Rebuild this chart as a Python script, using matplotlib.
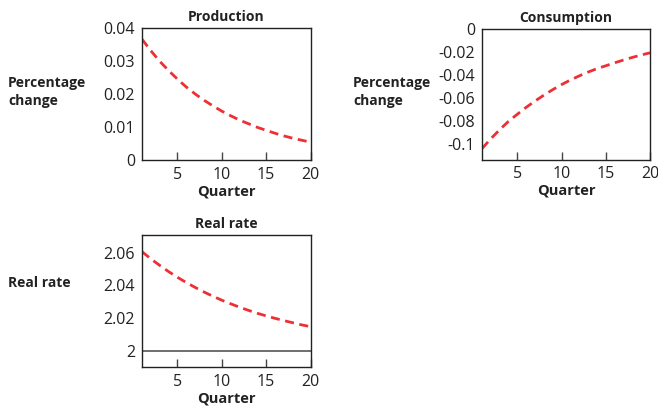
import numpy as np
import matplotlib.pyplot as plt
from matplotlib.ticker import FuncFormatter

# quarters 1..20 and responses
quarter = np.arange(1, 21)
production = [0.0366, 0.0331, 0.0299, 0.0271, 0.0245, 0.0221, 0.0200, 0.0181,
              0.0164, 0.0148, 0.0134, 0.0121, 0.0110, 0.0099, 0.0090, 0.0081,
              0.0073, 0.0066, 0.0060, 0.0054]
consumption = [-0.1040, -0.0954, -0.0875, -0.0802, -0.0740, -0.0680, -0.0625,
               -0.0574, -0.0526, -0.0482, -0.0442, -0.0406, -0.0373, -0.0343,
               -0.0318, -0.0292, -0.0268, -0.0245, -0.0224, -0.0205]
real_rate = [2.0606, 2.0562, 2.0522, 2.0484, 2.0449, 2.0417, 2.0387, 2.0359,
             2.0333, 2.0309, 2.0287, 2.0266, 2.0247, 2.0229, 2.0213, 2.0198,
             2.0184, 2.0171, 2.0158, 2.0147]
steady_rate = 2.0

prod_ticks = [0, 0.01, 0.02, 0.03, 0.04]
cons_ticks = [-0.1, -0.08, -0.06, -0.04, -0.02, 0]
rate_ticks = [2, 2.02, 2.04, 2.06]
x_ticks = [5, 10, 15, 20]

plt.rcParams["font.family"] = ["Open Sans", "DejaVu Sans"]
plt.rcParams["lines.scale_dashes"] = False

red = "#ec3035"
W, H = 658, 409


def ax_at(fig, left, top, right, bottom):
    return fig.add_axes([left / W, 1 - bottom / H, (right - left) / W, (bottom - top) / H])


def style(ax, title, yticks, ylim):
    ax.set_xlim(1, 20)
    ax.set_ylim(*ylim)
    ax.set_xticks(x_ticks)
    ax.set_yticks(yticks)
    ax.yaxis.set_major_formatter(FuncFormatter(lambda v, p: f"{v:g}"))
    ax.tick_params(axis="x", direction="in", length=6, width=1, color="#444444",
                   pad=5, labelsize=11.5, colors="#222222")
    ax.tick_params(axis="y", length=0, pad=5, labelsize=11.5, labelcolor="#222222")
    for sp in ax.spines.values():
        sp.set_linewidth(1)
        sp.set_color("#222222")
    ax.set_title(title, fontsize=10, fontweight="bold", pad=5, color="#222222")
    ax.set_xlabel("Quarter", fontsize=10.5, fontweight="bold", labelpad=1, color="#222222")


fig = plt.figure(figsize=(W / 100, H / 100), dpi=100)

ax1 = ax_at(fig, 142, 28, 310.5, 160)
ax1.plot(quarter, production, color=red, lw=2.0, dashes=(6.5, 4))
style(ax1, "Production", prod_ticks, (0, 0.04))

ax2 = ax_at(fig, 482, 29.3, 650, 159.5)
ax2.plot(quarter, consumption, color=red, lw=2.0, dashes=(6.5, 4))
style(ax2, "Consumption", cons_ticks, (-0.1135, 0))

ax3 = ax_at(fig, 142, 235, 310.5, 366.7)
ax3.axhline(steady_rate, color="#555555", lw=1.2)
ax3.plot(quarter, real_rate, color=red, lw=2.0, dashes=(6.5, 4))
style(ax3, "Real rate", rate_ticks, (1.9902, 2.0708))

lab = dict(fontsize=10, fontweight="bold", color="#222222", ha="left", va="center",
           linespacing=1.35)
fig.text(8 / W, 1 - 92 / H, "Percentage\nchange", **lab)
fig.text(353 / W, 1 - 92 / H, "Percentage\nchange", **lab)
fig.text(8 / W, 1 - 283 / H, "Real rate", **lab)

fig.savefig("out.png", dpi=100)
